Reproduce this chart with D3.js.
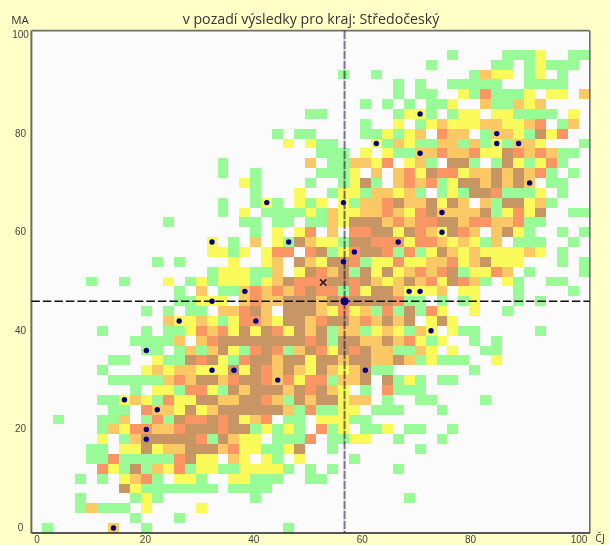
<!DOCTYPE html>
<html>
<head>
<meta charset="utf-8">
<script src="https://cdn.jsdelivr.net/npm/d3@7"></script>
<style>html,body{margin:0;padding:0;background:#FFFFC8;overflow:hidden}svg{display:block}</style>
</head>
<body>
<script>
const titleText = "v pozadí výsledky pro kraj: Středočeský";
const xAxisName = "ČJ";
const yAxisName = "MA";
const tickValues = [0, 20, 40, 60, 80, 100];
const levelColors = ["#98FB98", "#FAFA5A", "#FAC864", "#FA9664", "#C89664"];

// density level per row of the 2-point grid; row index = MA/2, "start:levels" with start = ČJ/2
const densityRows = [
"1:1 7:3 10:1 23:1",
"9:1 13:1",
"4:13111 10:2 15:2",
"4:1 9:121 20:1 34:1",
"8:52 10:1111111 18:1111",
"4:1 6:1 8:2341 13:221 18:22111 25:11",
"6:421513241221122221 25:1 27:1 33:1",
"5:11411111452203202102 29:1",
"5:11 8:22523355534221125 27:1 35:1",
"6:2 8:1355555415322 22:1114 27:1122 33:1 37:1",
"6:1324433455545512121 26:412 30:112 34:11 38:1",
"2:1 6:1130141544545234011022211",
"7:11 10:433252355555531411220111 37:1",
"6:112321422553355431535523301 35:11 41:1",
"9:102214421535553545320104111",
"7:11111343553455434244133505121 37:11",
"6:1 10:23233222525435325323511 40:1",
"7:11 11:21154521455355255355335312111 42:2",
"10:11013135214541354254533113202 41:11",
"9:11113034555555554515533534212 40:1 42:1",
"6:1 10:1 12:11243425254253513312321320211 46:1",
"12:322321244325534553435350252",
"10:1 12:1 14:110334530555324231415142 40:2 43:1",
"13:1122203433555354555541101012 44:1 46:1",
"13:1030113434345441425532223022 44:1 49:1",
"5:1 8:1 12:2 14:1212221235444554532353425431021 47:11",
"16:122211302543515252343451224301 50:1",
"11:1 13:1 18:2 21:230532554122422334235222 48:1 50:1",
"16:2212024404512455414125323222232 48:1",
"16:2 18:1 20:3 22:2153221554442443232130111 49:1",
"20:1 22:2 24:2403044552543254303521 48:1 50:1",
"12:1 19:11 22:11 25:1132555343445534433411",
"17:1 19:2 21:11112132233432453333512425 49:11",
"17:1 20:121 24:212021334533525303155231",
"20:1 24:2 27:12213323101215541112 48:1",
"19:21 25:1 28:125103434125535353011",
"17:1 20:1 26:1112030342544233535341 49:1",
"17:1 25:3 27:1133240231055101521241",
"26:111020211334334225434311",
"23:2 25:211 31:2132113313121332 50:1",
"22:1 24:11 30:1121230433013321524",
"30:1 33:2 35:123222332234 48:13",
"25:11 33:1221 38:122 42:221111 49:2",
"30:1 32:1 34:1 36:112 41:311323",
"33:1 35:11 39:2141112 47:22 50:3",
"33:1 35:1 38:11111 45:1111",
"28:1 31:1 40:1322 45:12 48:1",
"36:1 42:11 45:12111",
"38:1 43:1112 49:11",
"",
""
];

const dotsX = [14,20,20,22,16,44,32,36,20,26,40,32,38,32,42,46,56,56,58,66,74,74,70,70,62,84,84,88,90,68,70,72,60];
const dotsY = [0,18,20,24,26,30,32,32,36,42,42,46,48,58,66,58,54,66,56,58,60,64,76,84,78,80,78,78,70,48,48,40,32];
const crossX = 56.2, crossY = 46;
const markX = 52.3, markY = 49.8;

const W = 609, H = 545;
const x = d3.scaleLinear().domain([0, 100]).range([36.85, 584.35]);
const y = d3.scaleLinear().domain([0, 100]).range([528, 35]);
const xLabel = d3.scaleLinear().domain([0, 100]).range([37, 579]);
const cellW = x(2) - x(0), cellH = y(0) - y(2);

const cells = [];
densityRows.forEach((row, r) => {
  row.split(" ").filter(Boolean).forEach(tok => {
    const [start, levels] = tok.split(":");
    levels.split("").forEach((c, k) => { if (c !== "0") cells.push({cx: (+start + k) * 2, cy: r * 2, level: +c}); });
  });
});

const svg = d3.select("body").append("svg").attr("width", W).attr("height", H);
svg.append("rect").attr("width", W).attr("height", H).attr("fill", "#FFFFC8");

const pLeft = x(0) - cellW / 2, pRight = x(100) + cellW / 2, pTop = y(100) - cellH / 2 + 0.6, pBottom = y(0) + cellH / 2;
svg.append("rect").attr("x", pLeft).attr("y", pTop).attr("width", pRight - pLeft).attr("height", pBottom - pTop).attr("fill", "#FBFBFB");

svg.append("g").selectAll("rect").data(cells).join("rect")
  .attr("x", d => x(d.cx) - cellW / 2)
  .attr("y", d => y(d.cy) - cellH / 2)
  .attr("width", cellW)
  .attr("height", cellH)
  .attr("fill", d => levelColors[d.level - 1])
  .attr("shape-rendering", "crispEdges");

// frame
const frame = svg.append("g").attr("fill", "none");
frame.append("line").attr("x1", pLeft).attr("x2", pRight).attr("y1", pTop).attr("y2", pTop).attr("stroke", "#6E6E68").attr("stroke-width", 1.6);
frame.append("line").attr("x1", pRight).attr("x2", pRight).attr("y1", pTop).attr("y2", pBottom).attr("stroke", "#6E6E68").attr("stroke-width", 1.6);
frame.append("line").attr("x1", pLeft).attr("x2", pLeft).attr("y1", pTop).attr("y2", pBottom).attr("stroke", "#6E6E60").attr("stroke-width", 2);
frame.append("line").attr("x1", pLeft).attr("x2", pRight).attr("y1", pBottom).attr("y2", pBottom).attr("stroke", "#222").attr("stroke-width", 1.6);

// crosshair
svg.append("line").attr("x1", x(crossX)).attr("x2", x(crossX)).attr("y1", pTop).attr("y2", pBottom)
  .attr("stroke", "#8070A0").attr("stroke-width", 2).attr("stroke-dasharray", "8.5,1.5")
  .style("mix-blend-mode", "multiply");
svg.append("line").attr("x1", pLeft).attr("x2", pRight).attr("y1", y(crossY)).attr("y2", y(crossY))
  .attr("stroke", "#111").attr("stroke-width", 1.6).attr("stroke-dasharray", "8.5,3");

// dots
svg.append("g").selectAll("circle").data(dotsX.map((v, i) => ({x: v, y: dotsY[i]}))).join("circle")
  .attr("cx", d => x(d.x)).attr("cy", d => y(d.y)).attr("r", 2.7).attr("fill", "#000080");
svg.append("circle").attr("cx", x(crossX)).attr("cy", y(crossY)).attr("r", 4).attr("fill", "#000080");
svg.append("path").attr("d", d3.symbol(d3.symbolTimes, 28)())
  .attr("transform", `translate(${x(markX)},${y(markY)})`)
  .attr("fill", "none").attr("stroke", "#2a2020").attr("stroke-width", 1.7);

// texts
const sans = "'Liberation Sans',Arial,sans-serif";
svg.append("g").selectAll("text").data(tickValues).join("text")
  .attr("x", 20.5).attr("y", d => y(d) + 3).attr("text-anchor", "middle")
  .attr("font-family", sans).attr("font-size", 10).attr("fill", "#444")
  .text(d => d);
svg.append("g").selectAll("text").data(tickValues).join("text")
  .attr("x", d => xLabel(d)).attr("y", 542.8).attr("text-anchor", "middle")
  .attr("font-family", sans).attr("font-size", 10).attr("fill", "#444")
  .text(d => d);
svg.append("text").attr("x", 311).attr("y", 24).attr("text-anchor", "middle")
  .attr("font-family", "'Open Sans',sans-serif").attr("font-size", 14.2).attr("fill", "#333").text(titleText);
svg.append("text").attr("x", 20).attr("y", 24).attr("text-anchor", "middle")
  .attr("font-family", "'Open Sans',sans-serif").attr("font-size", 11.5).attr("fill", "#333").text(yAxisName);
svg.append("text").attr("x", 600).attr("y", 541.5).attr("text-anchor", "middle")
  .attr("font-family", "'Open Sans',sans-serif").attr("font-size", 10.5).attr("fill", "#333").text(xAxisName);
</script>
</body>
</html>
